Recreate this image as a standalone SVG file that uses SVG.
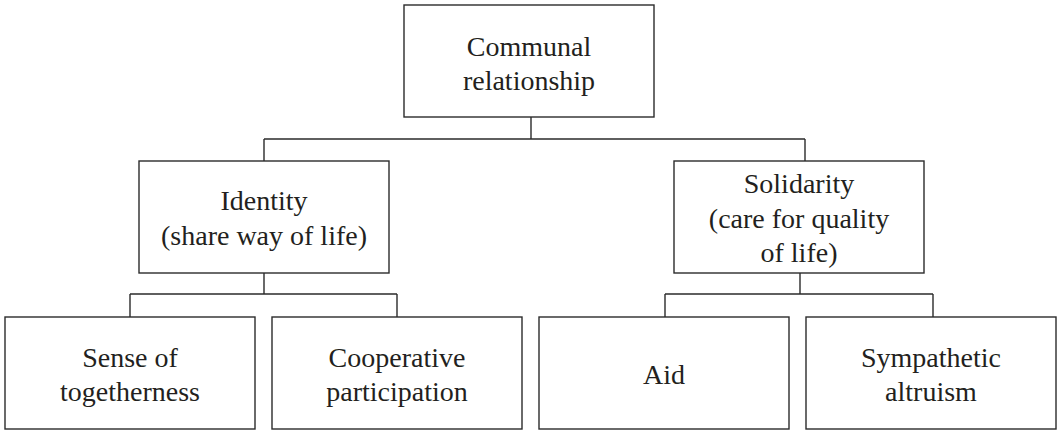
<svg xmlns="http://www.w3.org/2000/svg" width="1057" height="430" viewBox="0 0 1057 430">
<style>
.box{fill:#ffffff;stroke:#2b2b2b;stroke-width:1.4}
.lbl{font-family:"Liberation Serif","Times New Roman",serif;font-size:28px;fill:#231f20;text-anchor:middle}
.con{fill:none;stroke:#2b2b2b;stroke-width:1.4}
</style>
<rect width="1057" height="430" fill="#ffffff"/>
<g id="connectors">
<path class="con" d="M531,117V139M264,139H805M264,139V161M805,139V161"/>
<path class="con" d="M264,273V294M130,294H397M130,294V317M397,294V317"/>
<path class="con" d="M800,273V294M665,294H933M665,294V317M933,294V317"/>
</g>
<g id="communal">
<rect class="box" x="404" y="5" width="250" height="112"/>
<text class="lbl" x="529" y="56">Communal</text>
<text class="lbl" x="529" y="90">relationship</text>
</g>
<g id="identity">
<rect class="box" x="139" y="161" width="250" height="112"/>
<text class="lbl" x="264" y="210">Identity</text>
<text class="lbl" x="264" y="245">(share way of life)</text>
</g>
<g id="solidarity">
<rect class="box" x="674" y="161" width="250" height="112"/>
<text class="lbl" x="799" y="193">Solidarity</text>
<text class="lbl" x="799" y="228">(care for quality</text>
<text class="lbl" x="799" y="262">of life)</text>
</g>
<g id="togetherness">
<rect class="box" x="5" y="317" width="250" height="112"/>
<text class="lbl" x="130" y="367">Sense of</text>
<text class="lbl" x="130" y="401">togetherness</text>
</g>
<g id="participation">
<rect class="box" x="272" y="317" width="250" height="112"/>
<text class="lbl" x="397" y="367">Cooperative</text>
<text class="lbl" x="397" y="401">participation</text>
</g>
<g id="aid">
<rect class="box" x="539" y="317" width="250" height="112"/>
<text class="lbl" x="664" y="384">Aid</text>
</g>
<g id="altruism">
<rect class="box" x="806" y="317" width="250" height="112"/>
<text class="lbl" x="931" y="367">Sympathetic</text>
<text class="lbl" x="931" y="401">altruism</text>
</g>
</svg>
